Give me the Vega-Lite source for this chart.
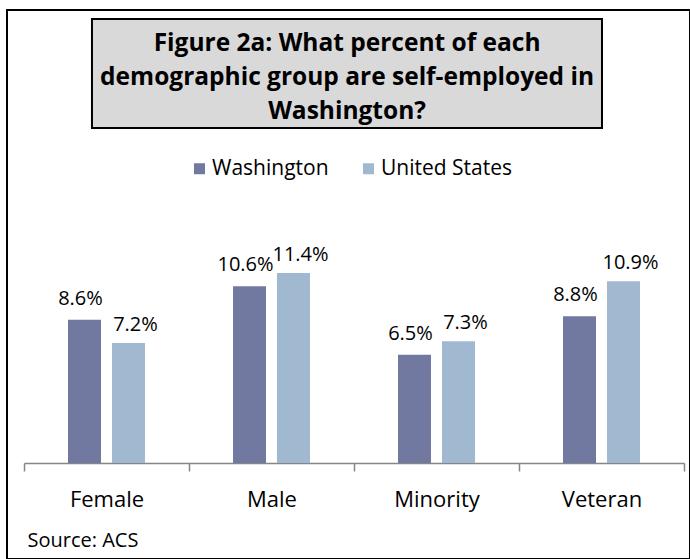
{
  "$schema": "https://vega.github.io/schema/vega-lite/v6.json",
  "autosize": {"type": "none"},
  "padding": {"left": 7, "top": 10, "right": 0, "bottom": 0},
  "width": 683,
  "height": 549,
  "background": "white",
  "config": {
    "font": "Open Sans",
    "view": {"stroke": "black", "strokeWidth": 2, "fill": "white"}
  },
  "data": {
    "values": [
      {"group": "Female", "series": "Washington", "value": 8.6, "label": "8.6%"},
      {"group": "Female", "series": "United States", "value": 7.2, "label": "7.2%"},
      {"group": "Male", "series": "Washington", "value": 10.6, "label": "10.6%"},
      {"group": "Male", "series": "United States", "value": 11.4, "label": "11.4%"},
      {"group": "Minority", "series": "Washington", "value": 6.5, "label": "6.5%"},
      {"group": "Minority", "series": "United States", "value": 7.3, "label": "7.3%"},
      {"group": "Veteran", "series": "Washington", "value": 8.8, "label": "8.8%"},
      {"group": "Veteran", "series": "United States", "value": 10.9, "label": "10.9%"}
    ]
  },
  "layer": [
    {
      "mark": {"type": "bar"},
      "encoding": {
        "x": {
          "field": "group",
          "type": "nominal",
          "sort": ["Female", "Male", "Minority", "Veteran"],
          "scale": {"domain": ["Female", "Male", "Minority", "Veteran"], "range": [17, 677], "paddingInner": 0, "paddingOuter": 0},
          "axis": {
            "orient": "bottom",
            "offset": -96,
            "title": "Source: ACS",
            "titleFont": "Open Sans",
            "titleFontSize": 20,
            "titleFontWeight": "normal",
            "titleColor": "black",
            "titleAnchor": "start",
            "titleAlign": "left",
            "titleBaseline": "alphabetic",
            "titleX": 20,
            "titleY": 83,
            "labelAngle": 0,
            "labelFont": "Open Sans",
            "labelFontSize": 22,
            "labelColor": "black",
            "labelBaseline": "alphabetic",
            "labelPadding": 35,
            "tickBand": "extent",
            "tickSize": 8,
            "tickColor": "#868686",
            "tickWidth": 1.5,
            "domainColor": "#868686",
            "domainWidth": 1.5,
            "grid": false
          }
        },
        "xOffset": {
          "field": "series",
          "type": "nominal",
          "scale": {"domain": ["Washington", "United States"], "paddingInner": 0.25, "paddingOuter": 1.0}
        },
        "y": {
          "field": "value",
          "type": "quantitative",
          "scale": {"domain": [0, 12], "range": [453, 253], "zero": true, "nice": false},
          "axis": null
        },
        "color": {
          "field": "series",
          "type": "nominal",
          "scale": {"domain": ["Washington", "United States"], "range": ["#7279a1", "#a0b8d0"]},
          "legend": {
            "orient": "none",
            "legendX": 182,
            "legendY": 148,
            "direction": "horizontal",
            "title": null,
            "symbolType": "square",
            "symbolSize": 121,
            "symbolStrokeWidth": 0,
            "labelFont": "Open Sans",
            "labelFontSize": 21,
            "labelColor": "black",
            "labelOffset": 2,
            "columnPadding": 29,
            "padding": 0
          }
        }
      }
    },
    {
      "transform": [{"filter": "datum.series === 'Washington'"}],
      "mark": {"type": "text", "fontSize": 20, "baseline": "alphabetic", "dy": -15, "dx": -4, "color": "black"},
      "encoding": {
        "x": {"field": "group", "type": "nominal"},
        "xOffset": {"field": "series", "type": "nominal"},
        "y": {"field": "value", "type": "quantitative", "axis": null},
        "text": {"field": "label"}
      }
    },
    {
      "transform": [{"filter": "datum.series === 'United States'"}],
      "mark": {"type": "text", "fontSize": 20, "baseline": "alphabetic", "dy": -12, "dx": 7, "color": "black"},
      "encoding": {
        "x": {"field": "group", "type": "nominal"},
        "xOffset": {"field": "series", "type": "nominal"},
        "y": {"field": "value", "type": "quantitative", "axis": null},
        "text": {"field": "label"}
      }
    },
    {
      "data": {"values": [{}]},
      "mark": {"type": "rect", "fill": "#d9d9d9", "stroke": "black", "strokeWidth": 2},
      "encoding": {
        "x": {"datum": "Female", "type": "nominal", "bandPosition": 0.412},
        "x2": {"datum": "Veteran", "bandPosition": 0.503},
        "y": {"datum": 26.64, "type": "quantitative", "axis": null},
        "y2": {"datum": 20.1}
      }
    },
    {
      "data": {"values": [{}]},
      "mark": {
        "type": "text",
        "fontSize": 24.5,
        "fontWeight": "bold",
        "align": "center",
        "baseline": "alphabetic",
        "lineHeight": 34,
        "color": "black",
        "text": ["Figure 2a: What percent of each", "demographic group are self-employed in", "Washington?"]
      },
      "encoding": {
        "x": {"datum": "Male", "type": "nominal", "bandPosition": 0.958},
        "y": {"datum": 24.72, "type": "quantitative", "axis": null}
      }
    }
  ]
}
